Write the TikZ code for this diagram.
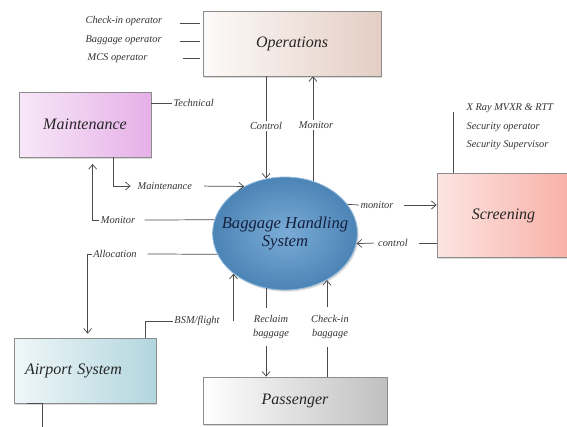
\documentclass[tikz,border=0pt]{standalone}
\usepackage{fontspec}
\setmainfont{Liberation Serif}
\usetikzlibrary{arrows.meta,calc,shapes.geometric,shadows}
\definecolor{Ink}{RGB}{75,75,75}
\definecolor{OpsTan}{RGB}{228,206,196}
\definecolor{MaintPink}{RGB}{230,176,232}
\definecolor{ScrSalmon}{RGB}{247,168,158}
\definecolor{AirBlue}{RGB}{178,214,222}
\definecolor{PassGrey}{RGB}{192,192,192}
\definecolor{BhsIn}{RGB}{122,172,214}
\definecolor{BhsOut}{RGB}{76,132,182}
\definecolor{BhsText}{RGB}{22,32,62}

\begin{document}
\begin{tikzpicture}[x=0.75pt,y=-0.75pt,>={Straight Barb[length=3.5pt,width=6pt]},
  box/.style={rectangle,draw=black!45,line width=0.5pt,
    drop shadow={opacity=0.3,shadow xshift=1pt,shadow yshift=-1.2pt},
    font=\fontsize{12}{14}\selectfont\itshape,text=black!85},
  tag/.style={font=\fontsize{7.8}{10.5}\selectfont\itshape,text=black!80,inner sep=1pt},
  wire/.style={draw=Ink,line width=0.55pt}]
  \useasboundingbox (0,0) rectangle (567,426);
  \clip (0,0) rectangle (567,426);

  % boxes
  \node[box,left color=OpsTan!10,right color=OpsTan,minimum width=133.5pt,minimum height=48.75pt] (ops) at (292,43.5) {Operations};
  \node[box,left color=MaintPink!30,right color=MaintPink,minimum width=99pt,minimum height=48.75pt] (maint) at (85,124.5) {Maintenance};
  \node[box,left color=ScrSalmon!30,right color=ScrSalmon!90,minimum width=99.75pt,minimum height=63pt] (scr) at (503.5,215.5) {Screening};
  \node[box,left color=AirBlue!20,right color=AirBlue,minimum width=106.5pt,minimum height=48.75pt,
    text width=90pt,align=left,inner xsep=8.25pt] (airport) at (85,370.5) {Airport System};
  \node[box,left color=white,right color=PassGrey,minimum width=138pt,minimum height=35.25pt] (pass) at (295,400.5) {Passenger};
  \node[ellipse,inner color=BhsIn,outer color=BhsOut,draw=BhsIn!80!white,line width=0.6pt,
    drop shadow={opacity=0.3,shadow xshift=1pt,shadow yshift=-1.2pt},
    minimum width=108pt,minimum height=84.75pt,inner xsep=-9pt,inner ysep=0pt,align=center,
    font=\fontsize{12.5}{13.5}\selectfont\itshape,text=BhsText] (bhs) at (285,233.5) {Baggage Handling\\System};

  % operators of Operations
  \node[tag,anchor=west] (chkop) at (84,21) {Check-in operator};
  \node[tag,anchor=west] (bagop) at (84,40) {Baggage operator};
  \node[tag,anchor=west] (mcsop) at (86,58) {MCS operator};
  \draw[wire] ($(ops.west|-chkop)+(-23,2)$) -- ($(ops.west|-chkop)+(-3,2)$);
  \draw[wire] ($(ops.west|-bagop)+(-23,1)$) -- ($(ops.west|-bagop)+(-3,1)$);
  \draw[wire] ($(ops.west|-mcsop)+(-20,0)$) -- ($(ops.west|-mcsop)+(-3,0)$);

  % Operations <-> BHS
  \node[tag] (ctrl) at (266,126) {Control};
  \node[tag] (mon) at (316,125) {Monitor};
  \draw[wire] (ops.south -| bhs.109) -- (bhs.109 |- ctrl.north);
  \draw[wire,->] (bhs.109 |- ctrl.south) -- (bhs.109);
  \draw[wire] (bhs.62) -- (bhs.62 |- mon.south);
  \draw[wire,->] (bhs.62 |- mon.north) -- (bhs.62 |- ops.south);

  % Maintenance <-> BHS
  \node[tag,anchor=west] (tech) at (172,103) {Technical};
  \draw[wire] (maint.east |- tech.west) -- (tech.west);
  \node[tag,anchor=west] (mnt) at (136,186) {Maintenance};
  \draw[wire,->,shorten >=4pt] ($(maint.south west)+(95,0)$) |- (mnt.west);
  \draw[wire,->,shorten <=8pt] (mnt.east) -- (bhs.131);
  \node[tag] (monl) at (118,220) {Monitor};
  \draw[wire,shorten >=6pt] (bhs.169) -- (monl.east);
  \draw[wire,->,shorten >=5pt] (monl.west) -| ($(maint.south west)+(74,0)$);

  % Airport System <-> BHS
  \node[tag] (alloc) at (115,254) {Allocation};
  \draw[wire,shorten >=7pt] (bhs.197) -- (alloc.east);
  \draw[wire,->,shorten >=3pt] (alloc.west) -| ($(airport.north west)+(74,0)$);
  \node[tag] (bsm) at (197,321) {BSM/flight};
  \draw[wire] ($(airport.north west)+(132,0)$) |- (bsm.west);
  \coordinate (bsmfoot) at (bhs.218 |- bsm);
  \draw[wire,->] (bsmfoot) -- (bhs.218);
  \draw[wire] ($(airport.south west)+(13,0)$) -- ++(16,0) -- ++(0,30);

  % Passenger <-> BHS
  \node[tag,align=center,inner ysep=5pt] (recl) at (271,327) {Reclaim\\baggage};
  \node[tag,align=center,inner ysep=6pt] (chkb) at (330,327) {Check-in\\baggage};
  \draw[wire] (bhs.251) -- (bhs.251 |- recl.north);
  \draw[wire,->] (bhs.251 |- recl.south) -- (bhs.251 |- pass.north);
  \draw[wire] (bhs.312 |- pass.north) -- (bhs.312 |- chkb.south);
  \draw[wire,->] (bhs.312 |- chkb.north) -- (bhs.312);

  % Screening <-> BHS
  \node[tag] (monr) at (377,205) {monitor};
  \draw[wire] (bhs.25) -- (monr.west);
  \draw[wire,->,shorten <=7pt] (monr.east) -- (monr.east -| scr.west);
  \node[tag] (ctrlr) at (393,243) {control};
  \draw[wire,shorten >=7pt] (ctrlr.east -| scr.west) -- (ctrlr.east);
  \draw[wire,->,shorten <=2pt] (ctrlr.west) -- (bhs.352);
  \node[tag,anchor=west] (xray) at (465,108) {X Ray MVXR \& RTT};
  \node[tag,anchor=west] (secop) at (465,127) {Security operator};
  \node[tag,anchor=west] (secsup) at (465,145) {Security Supervisor};
  \draw[wire] ($(scr.north west)+(17,0)$) -- +(0,-61);
\end{tikzpicture}
\end{document}
